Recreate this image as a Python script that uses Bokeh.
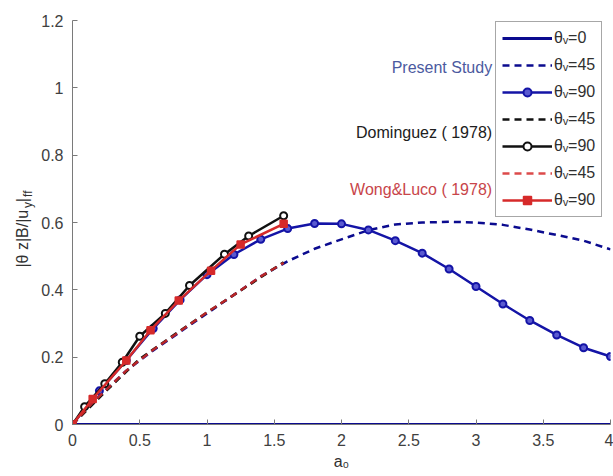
import math
from bokeh.plotting import figure
from bokeh.layouts import row
from bokeh.models import (FixedTicker, Legend, LegendItem, Label)
from bokeh.core.properties import value
from bokeh.embed import file_html
from bokeh.resources import INLINE

# ---------------- data ----------------
a0_present = [0.0, 0.2, 0.4, 0.6, 0.8, 1.0, 1.2, 1.4, 1.6, 1.8, 2.0,
              2.2, 2.4, 2.6, 2.8, 3.0, 3.2, 3.4, 3.6, 3.8, 4.0]
present_0 = [0.0] * 21
present_45 = [0.0, 0.085, 0.16, 0.22, 0.275, 0.33, 0.385, 0.44, 0.485, 0.522, 0.55,
              0.577, 0.594, 0.600, 0.602, 0.600, 0.593, 0.579, 0.563, 0.546, 0.520]
present_90 = [0.0, 0.10, 0.19, 0.285, 0.37, 0.445, 0.505, 0.55, 0.582, 0.597, 0.596,
              0.578, 0.546, 0.509, 0.462, 0.41, 0.358, 0.309, 0.266, 0.228, 0.202]

a0_dom45 = [0.0, 0.1, 0.25, 0.5, 0.75, 1.0, 1.25, 1.57]
dom_45 = [0.0, 0.04, 0.10, 0.195, 0.265, 0.333, 0.398, 0.482]
a0_dom90 = [0.0, 0.09, 0.24, 0.37, 0.5, 0.69, 0.87, 1.13, 1.31, 1.57]
dom_90 = [0.0, 0.053, 0.121, 0.185, 0.262, 0.33, 0.413, 0.506, 0.56, 0.62]

a0_wong45 = [0.0, 0.15, 0.4, 0.6, 0.8, 1.0, 1.2, 1.4, 1.57]
wong_45 = [0.0, 0.065, 0.16, 0.222, 0.277, 0.333, 0.385, 0.44, 0.48]
a0_wong90 = [0.0, 0.15, 0.4, 0.58, 0.79, 1.03, 1.25, 1.57]
wong_90 = [0.0, 0.076, 0.19, 0.28, 0.368, 0.457, 0.535, 0.596]

xticks = [0, 0.5, 1, 1.5, 2, 2.5, 3, 3.5, 4]
xtick_labels = ["0", "0.5", "1", "1.5", "2", "2.5", "3", "3.5", "4"]
yticks = [0, 0.2, 0.4, 0.6, 0.8, 1.0, 1.2]
ytick_labels = ["0", "0.2", "0.4", "0.6", "0.8", "1", "1.2"]

legend_labels = ["θᵥ=0", "θᵥ=45", "θᵥ=90", "θᵥ=45", "θᵥ=90", "θᵥ=45", "θᵥ=90"]
group_names = ["Present Study", "Dominguez ( 1978)", "Wong&Luco ( 1978)"]

# y-axis title pieces: text, subscript flag
ylabel_parts = ["|θ z|B/|u", "y", "|", "ff"]
ylabel_is_sub = [False, True, False, True]

# ---------------- style ----------------
FONT = "Liberation Sans"
NAVY = "#0b0b8f"
BLUE = "#1414a6"
BLACK = "#111111"
RED = "#d62a2a"
TOP, BOTTOM = 20, 52
LAB_W = 38

p = figure(width=613 - LAB_W, height=476, output_backend="svg", toolbar_location=None,
           x_range=(0, 4), y_range=(0, 1.2),
           min_border_left=72 - LAB_W, min_border_right=3,
           min_border_top=TOP, min_border_bottom=BOTTOM)
p.background_fill_color = "white"
p.border_fill_color = "white"
p.outline_line_color = None
p.xgrid.visible = False
p.ygrid.visible = False

for ax, ticks, labels in ((p.xaxis[0], xticks, xtick_labels), (p.yaxis[0], yticks, ytick_labels)):
    ax.ticker = FixedTicker(ticks=ticks)
    ax.major_label_overrides = {t: l for t, l in zip(ticks, labels)}
    ax.major_tick_in = 5
    ax.major_tick_out = 0
    ax.minor_tick_line_color = None
    ax.axis_line_color = "#7a7a7a"
    ax.major_tick_line_color = "#7a7a7a"
    ax.major_label_text_font = FONT
    ax.major_label_text_font_size = "16px"
    ax.major_label_text_color = "#404040"
    ax.major_label_standoff = 9

p.xaxis.axis_label = "a₀"
p.xaxis.axis_label_text_font = FONT
p.xaxis.axis_label_text_font_size = "16px"
p.xaxis.axis_label_text_font_style = "normal"
p.xaxis.axis_label_text_color = "#303030"
p.xaxis.axis_label_standoff = 4

# ---------------- series ----------------
r0 = p.line(a0_present, present_0, line_color=NAVY, line_width=3)
r45 = p.line(a0_present, present_45, line_color=NAVY, line_width=2.5, line_dash="7 5")
r90 = p.line(a0_present, present_90, line_color=BLUE, line_width=2.5)
r90m = p.scatter(a0_present, present_90, marker="circle", size=7, line_color=BLUE,
                 line_width=2, fill_color="#5a5ad0")

rd45 = p.line(a0_dom45, dom_45, line_color=BLACK, line_width=2.5, line_dash="7 5")
rd90 = p.line(a0_dom90, dom_90, line_color=BLACK, line_width=2.5)
rd90m = p.scatter(a0_dom90, dom_90, marker="circle", size=7, line_color=BLACK,
                  line_width=2, fill_color="white")

rw45 = p.line(a0_wong45, wong_45, line_color=RED, line_width=2.5, line_dash="7 5", line_alpha=0.85)
rw90 = p.line(a0_wong90, wong_90, line_color=RED, line_width=2.5)
rw90m = p.scatter(a0_wong90, wong_90, marker="square", size=7, line_color=RED,
                  line_width=1.5, fill_color=RED)

renderer_groups = [[r0], [r45], [r90, r90m], [rd45], [rd90, rd90m], [rw45], [rw90, rw90m]]
items = [LegendItem(label=lab, renderers=rs) for lab, rs in zip(legend_labels, renderer_groups)]
legend = Legend(items=items, location=(423, 207))
legend.glyph_width = 50
legend.glyph_height = 20
legend.label_height = 20
legend.spacing = 7
legend.padding = 6
legend.margin = 0
legend.label_standoff = 2
legend.label_text_font = FONT
legend.label_text_font_size = "16px"
legend.label_text_color = "#303030"
legend.border_line_color = "#505050"
legend.border_line_width = 1
legend.background_fill_color = "white"
legend.background_fill_alpha = 1
p.add_layout(legend, "center")

# group annotations
group_colors = ["#4b5aa0", "#202020", "#c8454a"]
group_y = [1.060, 0.867, 0.698]
for name, col, gy in zip(group_names, group_colors, group_y):
    p.add_layout(Label(x=3.12, y=gy, text=name, text_align="right", text_baseline="middle",
                       text_font=FONT, text_font_size="16px", text_color=col))

# ---------------- y-axis title strip (separate narrow figure) ----------------
q = figure(width=LAB_W, height=476, output_backend="svg", toolbar_location=None,
           x_range=(0, LAB_W), y_range=(0, 1.2),
           min_border_left=0, min_border_right=0,
           min_border_top=TOP, min_border_bottom=BOTTOM)
q.axis.visible = False
q.grid.visible = False
q.outline_line_color = None
q.background_fill_color = "white"
q.border_fill_color = "white"

# positions along the (vertical) title, in y-data units, and horizontal offsets
part_y = [0.466, 0.643, 0.660, 0.676]
part_x = [22, 27, 22, 27]
part_size = ["16px" if not s else "12px" for s in ylabel_is_sub]
for txt, px_, py_, fs in zip(ylabel_parts, part_x, part_y, part_size):
    q.text(x=[px_], y=[py_], text=[txt], angle=math.pi / 2, text_align="left",
           text_baseline="middle", text_font=value(FONT), text_font_size=value(fs),
           text_color="#303030")

layout = row(q, p)
open("out.html", "w").write(file_html(layout, INLINE))
